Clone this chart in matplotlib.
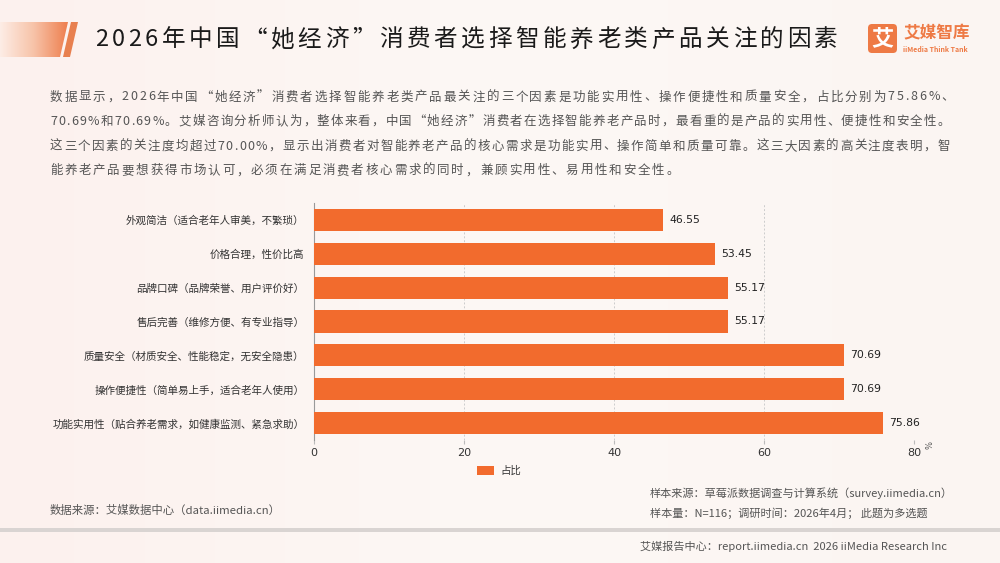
import matplotlib
matplotlib.use("Agg")
import matplotlib.pyplot as plt
import numpy as np
from matplotlib.patches import Polygon, FancyBboxPatch, Rectangle
from matplotlib.colors import LinearSegmentedColormap
from matplotlib.font_manager import FontProperties, findfont, get_font

plt.rcParams['font.family'] = ['Noto Sans CJK SC', 'DejaVu Sans']

categories = [
    "功能实用性（贴合养老需求，如健康监测、紧急求助）",
    "操作便捷性（简单易上手，适合老年人使用）",
    "质量安全（材质安全、性能稳定，无安全隐患）",
    "售后完善（维修方便、有专业指导）",
    "品牌口碑（品牌荣誉、用户评价好）",
    "价格合理，性价比高",
    "外观简洁（适合老年人审美，不繁琐）",
]
values = [75.86, 70.69, 70.69, 55.17, 55.17, 53.45, 46.55]
xticks = [0, 20, 40, 60, 80]
series_name = "占比"

title = "2026年中国“她经济”消费者选择智能养老类产品关注的因素"
para = [
    "数据显示，2026年中国“她经济”消费者选择智能养老类产品最关注的三个因素是功能实用性、操作便捷性和质量安全，占比分别为75.86%、",
    "70.69%和70.69%。艾媒咨询分析师认为，整体来看，中国“她经济”消费者在选择智能养老产品时，最看重的是产品的实用性、便捷性和安全性。",
    "这三个因素的关注度均超过70.00%，显示出消费者对智能养老产品的核心需求是功能实用、操作简单和质量可靠。这三大因素的高关注度表明，智",
    "能养老产品要想获得市场认可，必须在满足消费者核心需求的同时，兼顾实用性、易用性和安全性。",
]

W, H = 1000, 563
DPI = 100
fig = plt.figure(figsize=(10, 5.63), dpi=DPI)

FAM = ['Noto Sans CJK SC', 'DejaVu Sans']
_fonts = [get_font(findfont(FontProperties(family=f))) for f in FAM]
_cmaps = [f.get_charmap() for f in _fonts]


def glyph_advance(ch, size):
    for f, cm in zip(_fonts, _cmaps):
        if ord(ch) in cm:
            f.set_size(size, DPI)
            g = f.load_char(ord(ch))
            return g.linearHoriAdvance / 65536.0
    return size * DPI / 72 * 0.5


def natural_width(s, size):
    return sum(glyph_advance(c, size) for c in s)


def fit_tracking(s, size, target):
    return (target - natural_width(s, size)) / (len(s) - 1)


# background
bg = fig.add_axes([0, 0, 1, 1])
bg.set_xlim(0, W); bg.set_ylim(H, 0); bg.axis('off')
grad = np.linspace(0, 1, 256)[None, :]
bgcmap = LinearSegmentedColormap.from_list('bg', ['#FCF1EE', '#FDF8F5', '#FBF5F2'])
bg.imshow(grad, extent=[0, W, H, 0], cmap=bgcmap, aspect='auto', zorder=0)


def tracked_text(x, y, s, size, tracking, **kw):
    prop = FontProperties(family=FAM, size=size)
    pen = x
    for ch in s:
        adv = glyph_advance(ch, size)
        if not ch.isspace():
            bg.text(pen, y, ch, fontproperties=prop, ha='left', va='center', **kw)
        pen += adv + tracking


# title decoration
deco_cmap = LinearSegmentedColormap.from_list('deco', ['#FDEDE6', '#F7C3A8', '#EE7E4E'])
im = bg.imshow(grad, extent=[0, 68, 57, 22], cmap=deco_cmap, aspect='auto', zorder=1)
poly = Polygon([[0, 22], [68, 22], [60, 57], [0, 57]], closed=True, transform=bg.transData)
im.set_clip_path(poly)
bg.add_patch(Polygon([[71, 22], [78, 22], [70, 57], [63, 57]], closed=True,
                     facecolor='#E8804F', edgecolor='none', zorder=1))
tt = fit_tracking(title, 17, 838 - 95)
tracked_text(95, 40, title, 17, tt, color='#1a1a1a', zorder=2)

# logo
bg.add_patch(FancyBboxPatch((868, 24), 29, 29, boxstyle="round,pad=0,rounding_size=4",
                            facecolor='#EE7A45', edgecolor='none', zorder=2))
bg.text(882.5, 38.5, "艾", fontsize=16, color='white', ha='center', va='center',
        fontweight='bold', zorder=3)
bg.text(903, 33, "艾媒智库", fontsize=12, color='#EE7A45', ha='left', va='center',
        fontweight='bold', zorder=3)
bg.text(903, 49, "iiMedia Think Tank", fontsize=5, color='#EE7A45', ha='left', va='center',
        fontweight='bold', zorder=3)

# paragraph
targets = [954, 950, 950, None]
t0 = fit_tracking(para[0], 9, targets[0] - 50)
for i, line in enumerate(para):
    t = fit_tracking(line, 9, targets[i] - 50) if targets[i] else t0
    tracked_text(50, 97 + i * 24.6, line, 9, t, color='#555555', zorder=2)

# footer
bg.text(50, 510, "数据来源：艾媒数据中心（data.iimedia.cn）", fontsize=8.2, color='#555555',
        ha='left', va='center')
bg.text(650, 493, "样本来源：草莓派数据调查与计算系统（survey.iimedia.cn）", fontsize=8,
        color='#555555', ha='left', va='center')
bg.text(650, 513, "样本量：N=116；调研时间：2026年4月； 此题为多选题", fontsize=8,
        color='#555555', ha='left', va='center')
bg.add_patch(Rectangle((0, 528), W, 4, facecolor='#D9D4D2', edgecolor='none', zorder=1))
bg.text(640, 546, "艾媒报告中心：report.iimedia.cn  2026 iiMedia Research Inc", fontsize=8,
        color='#555555', ha='left', va='center')

# chart
x0, x1 = 314, 914
ytop, ybot = 203, 440
ax = fig.add_axes([x0 / W, 1 - ybot / H, (x1 - x0) / W, (ybot - ytop) / H])
ax.patch.set_alpha(0)
pos = np.arange(len(categories))
bar_color = '#F26B2D'
ax.barh(pos, values, height=0.65, color=bar_color, zorder=3, label=series_name)
ax.set_xlim(0, 80)
ax.set_ylim(-0.5, len(categories) - 0.5)
ax.set_xticks(xticks)
ax.set_xticklabels([str(t) for t in xticks], fontsize=8, color='#333333',
                   family='DejaVu Sans')
ax.set_yticks(pos)
ax.set_yticklabels(categories, fontsize=7.6, color='#333333')
ax.tick_params(axis='y', length=0, pad=7)
ax.tick_params(axis='x', length=3, color='#bbbbbb', pad=3)
for t in xticks[1:]:
    ax.axvline(t, color='#cccccc', linestyle=(0, (2, 2)), linewidth=0.7, zorder=1)
for s in ['top', 'right']:
    ax.spines[s].set_visible(False)
ax.spines['bottom'].set_visible(False)
ax.spines['left'].set_color('#999999')
ax.spines['left'].set_linewidth(0.8)
for p, v in zip(pos, values):
    ax.text(v + 0.8, p, f"{v:.2f}", fontsize=7.8, color='#222222', va='center', ha='left',
            family='DejaVu Sans', zorder=4)
ax.text(1.02, -0.02, "%", transform=ax.transAxes, fontsize=6, color='#555555', rotation=90,
        ha='left', va='center', family='DejaVu Sans')

leg = fig.legend(loc='center', bbox_to_anchor=(499 / W, 1 - 471 / H), frameon=False,
                 fontsize=7.5, handlelength=1.7, handleheight=0.9, handletextpad=0.6)
for t in leg.get_texts():
    t.set_color('#333333')

fig.savefig("out.png", dpi=DPI)
